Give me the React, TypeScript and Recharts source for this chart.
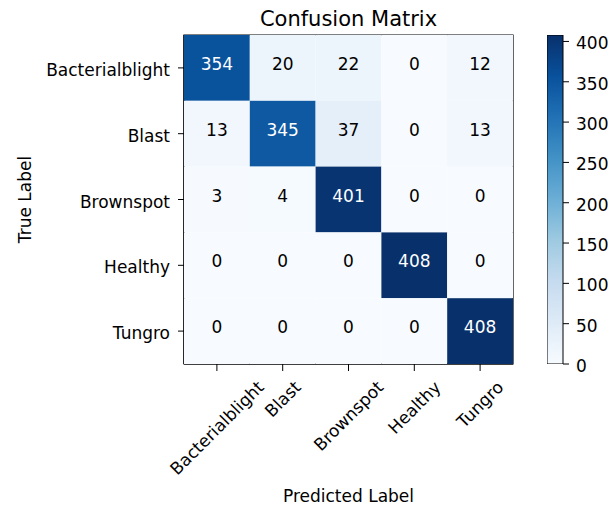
import React from 'react';
import { ScatterChart, Scatter, XAxis, YAxis, ReferenceArea, BarChart, Bar } from 'recharts';

// ---- data ----
const CLASSES = ['Bacterialblight', 'Blast', 'Brownspot', 'Healthy', 'Tungro'];
const ROW_BACTERIALBLIGHT = [354, 20, 22, 0, 12];
const ROW_BLAST = [13, 345, 37, 0, 13];
const ROW_BROWNSPOT = [3, 4, 401, 0, 0];
const ROW_HEALTHY = [0, 0, 0, 408, 0];
const ROW_TUNGRO = [0, 0, 0, 0, 408];
const MATRIX = [ROW_BACTERIALBLIGHT, ROW_BLAST, ROW_BROWNSPOT, ROW_HEALTHY, ROW_TUNGRO];
const CLASS_INDEX = [0, 1, 2, 3, 4];
const COLORBAR_TICKS = [0, 50, 100, 150, 200, 250, 300, 350, 400];
const VMAX = 408;
const TITLE = 'Confusion Matrix';
const X_LABEL = 'Predicted Label';
const Y_LABEL = 'True Label';

// ---- layout / style ----
const W = 600;
const H = 500;
const FONT = "'DejaVu Sans', sans-serif";
const FS = 17;
const PLOT_LEFT = 176;
const PLOT_TOP = 27;
const PLOT_SIZE = 329;
const Y_AXIS_W = 60;
const X_AXIS_H = 30;
const CELL = PLOT_SIZE / MATRIX.length;

const BLUES = ['#f7fbff', '#deebf7', '#c6dbef', '#9ecae1', '#6baed6', '#4292c6', '#2171b5', '#08519c', '#08306b'];

function hexToRgb(h: string) {
  return [parseInt(h.slice(1, 3), 16), parseInt(h.slice(3, 5), 16), parseInt(h.slice(5, 7), 16)];
}
function blues(t: number) {
  const tt = Math.max(0, Math.min(1, t));
  const pos = tt * (BLUES.length - 1);
  const i = Math.min(BLUES.length - 2, Math.floor(pos));
  const f = pos - i;
  const a = hexToRgb(BLUES[i]);
  const b = hexToRgb(BLUES[i + 1]);
  const c = a.map((v, k) => Math.round(v + (b[k] - v) * f));
  return `rgb(${c[0]},${c[1]},${c[2]})`;
}

let ctx: CanvasRenderingContext2D | null = null;
function textWidth(s: string, size: number) {
  if (!ctx) {
    const cv = document.createElement('canvas');
    ctx = cv.getContext('2d');
  }
  if (!ctx) return s.length * size * 0.6;
  ctx.font = `${size}px 'DejaVu Sans'`;
  return ctx.measureText(s).width;
}

const cells = MATRIX.flatMap((row, r) => row.map((v, c) => ({ x: c, y: r, v })));

const CellShape = (props: any) => {
  const { cx, cy, payload } = props;
  const v = payload.v;
  return (
    <g>
      <rect x={cx - CELL / 2} y={cy - CELL / 2} width={CELL} height={CELL} fill={blues(v / VMAX)} />
      <text
        x={cx}
        y={cy + 2}
        textAnchor="middle"
        fontFamily={FONT}
        fontSize={FS}
        fill={v > VMAX / 2 ? '#ffffff' : '#000000'}
      >
        {v}
      </text>
    </g>
  );
};

const XTick = (props: any) => {
  const { x, y, payload } = props;
  const label = CLASSES[payload.value] ?? '';
  const w = textWidth(label, FS);
  const cy = y + 4 + (w + 20) * 0.3536;
  return (
    <text
      x={x}
      y={cy}
      textAnchor="middle"
      dominantBaseline="central"
      fontFamily={FONT}
      fontSize={FS}
      fill="#000"
      transform={`rotate(-45, ${x}, ${cy})`}
    >
      {label}
    </text>
  );
};

const YTick = (props: any) => {
  const { x, y, payload } = props;
  const label = CLASSES[payload.value] ?? '';
  return (
    <text x={x} y={y + 8} textAnchor="end" fontFamily={FONT} fontSize={FS} fill="#000">
      {label}
    </text>
  );
};

const CbTick = (props: any) => {
  const { x, y, payload } = props;
  return (
    <text x={x} y={y + 8} textAnchor="start" fontFamily={FONT} fontSize={FS} fill="#000">
      {payload.value}
    </text>
  );
};

const colorbarData = [{ name: 'cb', value: VMAX }];

export default function App() {
  return (
    <div style={{ position: 'relative', width: W, height: H, background: '#fff' }}>
      <div style={{ position: 'absolute', left: 0, top: 0 }}>
        <ScatterChart
          width={W}
          height={H}
          margin={{
            top: PLOT_TOP,
            left: PLOT_LEFT - Y_AXIS_W,
            right: W - PLOT_LEFT - PLOT_SIZE,
            bottom: H - PLOT_TOP - PLOT_SIZE - X_AXIS_H,
          }}
        >
          <XAxis
            type="number"
            dataKey="x"
            domain={[-0.5, 4.5]}
            ticks={CLASS_INDEX}
            interval={0}
            height={X_AXIS_H}
            tickSize={7}
            tickMargin={2}
            tick={<XTick />}
            axisLine={{ stroke: '#000', strokeWidth: 1.2 }}
            tickLine={{ stroke: '#000', strokeWidth: 1 }}
            allowDataOverflow
          />
          <YAxis
            type="number"
            dataKey="y"
            domain={[-0.5, 4.5]}
            reversed
            ticks={CLASS_INDEX}
            interval={0}
            width={Y_AXIS_W}
            tickSize={6}
            tickMargin={8}
            tick={<YTick />}
            axisLine={{ stroke: '#000', strokeWidth: 1.2 }}
            tickLine={{ stroke: '#000', strokeWidth: 1 }}
            allowDataOverflow
          />
          <Scatter data={cells} shape={<CellShape />} isAnimationActive={false} />
          <ReferenceArea x1={-0.5} x2={4.5} y1={-0.5} y2={4.5} fill="none" fillOpacity={0} stroke="#000" strokeWidth={1.2} />
        </ScatterChart>
      </div>
      <div style={{ position: 'absolute', left: 539, top: 0 }}>
        <BarChart
          width={80}
          height={H}
          data={colorbarData}
          margin={{ top: PLOT_TOP, right: 0, left: 0, bottom: H - PLOT_TOP - PLOT_SIZE }}
          barCategoryGap={0}
        >
          <defs>
            <linearGradient id="bluesGrad" x1="0" y1="1" x2="0" y2="0">
              {BLUES.map((c, i) => (
                <stop key={i} offset={`${(i / (BLUES.length - 1)) * 100}%`} stopColor={c} />
              ))}
            </linearGradient>
          </defs>
          <XAxis dataKey="name" hide />
          <YAxis
            orientation="right"
            domain={[0, VMAX]}
            ticks={COLORBAR_TICKS}
            interval={0}
            width={64}
            tickSize={6}
            tickMargin={7}
            axisLine={false}
            tickLine={{ stroke: '#000', strokeWidth: 1 }}
            tick={<CbTick />}
            allowDataOverflow
          />
          <Bar dataKey="value" fill="url(#bluesGrad)" stroke="#000" strokeWidth={1} isAnimationActive={false} />
        </BarChart>
      </div>
      <svg width={W} height={H} style={{ position: 'absolute', left: 0, top: 0, pointerEvents: 'none' }}>
        <text x={PLOT_LEFT + PLOT_SIZE / 2} y={18} textAnchor="middle" fontFamily={FONT} fontSize={21} fill="#000">
          {TITLE}
        </text>
        <text x={PLOT_LEFT + PLOT_SIZE / 2} y={494} textAnchor="middle" fontFamily={FONT} fontSize={FS} fill="#000">
          {X_LABEL}
        </text>
        <text
          x={23}
          y={PLOT_TOP + PLOT_SIZE / 2}
          textAnchor="middle"
          fontFamily={FONT}
          fontSize={FS}
          fill="#000"
          transform={`rotate(-90, 23, ${PLOT_TOP + PLOT_SIZE / 2})`}
        >
          {Y_LABEL}
        </text>
      </svg>
    </div>
  );
}
